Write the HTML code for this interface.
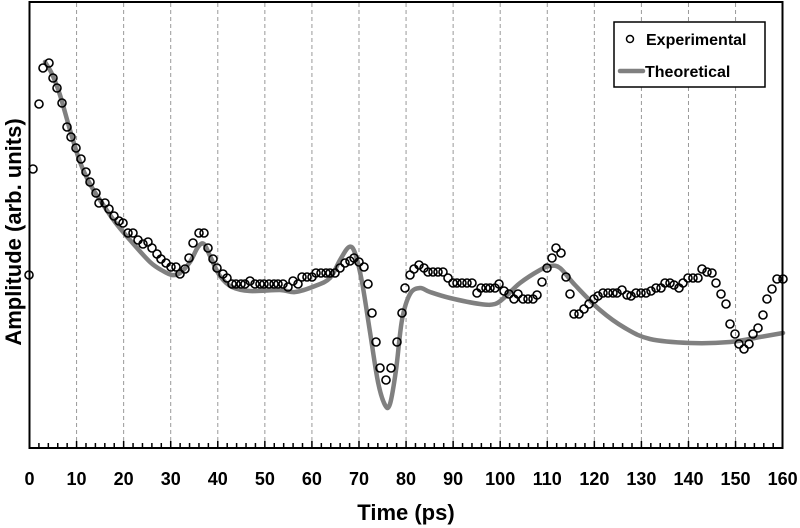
<!DOCTYPE html>
<html><head><meta charset="utf-8"><style>
html,body{margin:0;padding:0;background:#fff;}
svg{display:block;font-family:"Liberation Sans",Arial,sans-serif;}
</style></head><body>
<svg id="s" width="800" height="528" viewBox="0 0 800 528" xmlns="http://www.w3.org/2000/svg">
<g id="grid" stroke="#999" stroke-width="1" stroke-dasharray="4,3"></g>
<g id="ticks" stroke="#000" stroke-width="1.5"></g>
<path id="theo" fill="none" stroke="#808080" stroke-width="4.5" stroke-linejoin="round" stroke-linecap="round"/>
<g id="pts" fill="none" stroke="#000" stroke-width="1.6"></g>
<rect x="29.5" y="2" width="753" height="446" fill="none" stroke="#000" stroke-width="2"/>
<g id="lbl" font-size="18" font-weight="bold" text-anchor="middle"></g>
<text x="406" y="520" font-size="22" font-weight="bold" text-anchor="middle">Time (ps)</text>
<text transform="translate(21,232) rotate(-90)" font-size="22" font-weight="bold" text-anchor="middle">Amplitude (arb. units)</text>
<rect x="614" y="22" width="151" height="65" fill="#fff" stroke="#000" stroke-width="1.5"/>
<circle cx="630" cy="39" r="3.5" fill="none" stroke="#000" stroke-width="1.5"/>
<text x="646" y="45" font-size="16" font-weight="bold">Experimental</text>
<line x1="620" y1="71" x2="643" y2="71" stroke="#808080" stroke-width="4.5" stroke-linecap="round"/>
<text x="645" y="77" font-size="16" font-weight="bold">Theoretical</text>
</svg>
<script>
var NS="http://www.w3.org/2000/svg";
function el(p,t,a){var e=document.createElementNS(NS,t);for(var k in a)e.setAttribute(k,a[k]);document.getElementById(p).appendChild(e);return e;}
function X(t){return 29.5+4.707*t;}
for(var i=1;i<16;i++){var x=X(i*10);el("grid","line",{x1:x,y1:3,x2:x,y2:447});}
for(var t=0;t<=160;t+=2){var x=X(t);el("ticks","line",{x1:x,y1:448,x2:x,y2:t%10==0?441:443});}
for(var t=0;t<=160;t+=10){var e=el("lbl","text",{x:X(t),y:485});e.textContent=t;}
var th=[[45,62],[52,74],[60,95],[70,130],[80,162],[90,184],[100,200],[115,222],[130,240],[150,262],[163,271],[172,275],[180,273],[190,262],[198,247],[204,244],[210,256],[220,276],[232,287],[250,291],[280,290],[295,292],[315,286],[330,278],[340,260],[349,247],[355,253],[362,282],[370,332],[378,382],[385,405],[390,404],[396,370],[402,320],[410,294],[420,288],[430,292],[450,298],[480,304],[495,304],[505,297],[520,283],[540,270],[550,266],[560,268],[575,285],[600,310],[625,328],[650,339],[690,343],[730,342],[760,337],[783,333]];
var d="M"+th[0].join(",");
for(var i=0;i<th.length-1;i++){var p0=th[Math.max(0,i-1)],p1=th[i],p2=th[i+1],p3=th[Math.min(th.length-1,i+2)];
var c1=[p1[0]+(p2[0]-p0[0])/6,p1[1]+(p2[1]-p0[1])/6],c2=[p2[0]-(p3[0]-p1[0])/6,p2[1]-(p3[1]-p1[1])/6];
d+=" C"+c1.join(",")+" "+c2.join(",")+" "+p2.join(",");}
document.getElementById("theo").setAttribute("d",d);
var P=[[29,275],[33,169],[39,104],[43,68],[49,63],[53,78],[57,88],[62,103],[67,127],[71,137],[76,148],[81,159],[86,172],[90,182],[96,193],[99,203],[105,203],[109,209],[114,216],[119,221],[123,223],[128,233],[133,233],[138,240],[143,244],[148,242],[152,248],[157,254],[161,259],[166,263],[171,267],[176,267],[180,274],[185,269],[189,258],[193,243],[199,233],[204,233],[208,248],[213,259],[217,268],[223,274],[227,278],[232,284],[236,284],[241,284],[245,284],[250,281],[255,284],[260,284],[264,284],[269,284],[274,284],[278,284],[283,284],[288,287],[293,281],[298,284],[302,277],[307,277],[312,277],[316,273],[321,273],[326,273],[330,273],[335,273],[340,268],[345,263],[350,261],[354,258],[359,262],[364,267],[368,284],[372,313],[376,342],[380,368],[386,380],[391,368],[397,342],[402,313],[405,288],[410,275],[414,269],[419,265],[424,268],[428,272],[433,272],[438,272],[443,272],[448,278],[453,283],[457,283],[462,283],[467,283],[472,283],[477,293],[481,288],[486,288],[490,288],[495,288],[499,284],[504,291],[509,294],[514,299],[518,294],[523,299],[528,299],[533,299],[537,295],[542,282],[547,268],[552,258],[556,248],[561,253],[566,277],[570,294],[574,314],[579,314],[584,309],[589,304],[594,299],[598,296],[603,293],[608,293],[613,293],[617,293],[622,290],[627,295],[631,296],[636,293],[641,293],[646,293],[651,291],[656,288],[661,288],[665,283],[670,283],[674,285],[679,288],[683,283],[688,278],[693,278],[698,278],[702,269],[707,272],[712,273],[716,283],[721,294],[726,304],[730,324],[735,334],[739,344],[744,349],[749,344],[753,334],[758,328],[763,315],[767,299],[772,289],[777,279],[783,279]];
P.forEach(function(p){el("pts","circle",{cx:p[0],cy:p[1],r:4});});
</script>
</body></html>
